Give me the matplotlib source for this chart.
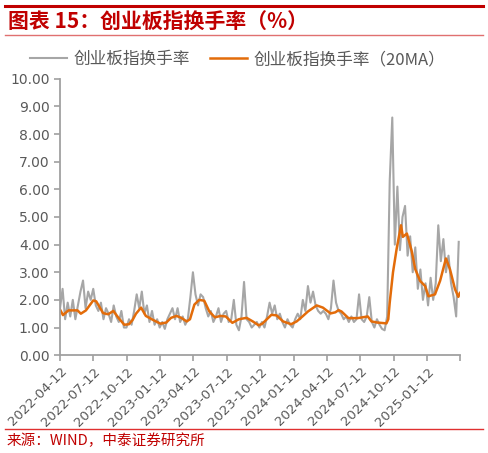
import numpy as np
import pandas as pd
import matplotlib
matplotlib.use("Agg")
import matplotlib.pyplot as plt
import matplotlib.dates as mdates
from matplotlib.lines import Line2D

plt.rcParams['font.family'] = ['Noto Sans CJK SC', 'DejaVu Sans']

# weekly readings of the daily turnover rate (%)
turnover = [
    1.7, 2.4, 1.3, 1.9,
    1.4, 2.0, 1.3, 1.8, 2.3,
    2.7, 1.7, 2.3, 2.0,
    2.4, 1.8, 1.6, 1.9,
    1.3, 1.7, 1.5, 1.2, 1.8,
    1.4, 1.2, 1.6, 1.0,
    1.0, 1.3, 1.1, 1.6,
    2.2, 1.7, 2.3, 1.5, 1.8,
    1.2, 1.6, 1.1, 1.3,
    1.0, 1.2, 0.95, 1.3,
    1.5, 1.7, 1.3, 1.7, 1.2,
    1.4, 1.1, 1.3, 2.1,
    3.0, 2.2, 1.8, 2.2,
    2.1, 1.7, 1.4, 1.6, 1.2,
    1.4, 1.7, 1.2, 1.5,
    1.6, 1.2, 1.3, 2.0,
    1.1, 0.9, 1.4, 2.65, 1.3,
    1.2, 1.0, 1.1, 1.2,
    1.0, 1.2, 1.0, 1.4,
    1.9, 1.5, 1.8, 1.3, 1.5,
    1.2, 1.0, 1.3, 1.1,
    1.0, 1.3, 1.5, 1.3,
    2.0, 1.6, 2.5, 1.9, 2.3,
    1.8, 1.6, 1.5, 1.6,
    1.5, 1.3, 1.7, 2.7,
    1.9, 1.6, 1.5, 1.3, 1.4,
    1.2, 1.4, 1.2, 1.3,
    2.2, 1.3, 1.2, 1.4,
    2.1, 1.2, 1.0, 1.3, 1.1,
    0.95, 0.9, 1.4, 6.3,
    8.6, 4.0, 6.1, 3.8, 5.0, 5.4, 3.6, 4.3, 3.0, 3.9, 2.4, 3.1, 2.0,
    2.6, 1.8, 2.8, 2.0, 2.6,
    4.7, 3.4, 4.2, 3.0, 3.6, 2.6, 2.1, 1.4, 4.1,
]
turnover_dates = pd.date_range('2022-04-12', periods=len(turnover), freq='7D')

# 20-day moving average
ma_dates = pd.to_datetime([
    '2022-04-12', '2022-04-20', '2022-05-05', '2022-05-30', '2022-06-08', '2022-06-22',
    '2022-07-12', '2022-07-20', '2022-08-08', '2022-08-22', '2022-09-05', '2022-09-19',
    '2022-10-05', '2022-10-18', '2022-10-28', '2022-11-06', '2022-11-20', '2022-12-03',
    '2022-12-22', '2023-01-12', '2023-01-28', '2023-02-10', '2023-02-25', '2023-03-10',
    '2023-03-25', '2023-04-03', '2023-04-15', '2023-04-28', '2023-05-12', '2023-05-26',
    '2023-06-10', '2023-06-26', '2023-07-10', '2023-07-28', '2023-08-15', '2023-09-05',
    '2023-09-22', '2023-10-08', '2023-10-18', '2023-11-12', '2023-11-26', '2023-12-14',
    '2024-01-05', '2024-01-20', '2024-02-05', '2024-02-20', '2024-03-15', '2024-04-01',
    '2024-04-22', '2024-05-05', '2024-05-14', '2024-05-22', '2024-06-10', '2024-07-05',
    '2024-08-02', '2024-08-12', '2024-08-28', '2024-09-22', '2024-09-27', '2024-10-01',
    '2024-10-10', '2024-10-20', '2024-11-01', '2024-11-06', '2024-11-17', '2024-11-30',
    '2024-12-10', '2024-12-23', '2025-01-06', '2025-01-15', '2025-02-02', '2025-02-16',
    '2025-03-04', '2025-03-15', '2025-03-29', '2025-04-07', '2025-04-11',
])
ma20 = [
    1.65, 1.45, 1.62, 1.62, 1.50, 1.62,
    1.98, 1.95, 1.52, 1.48, 1.60, 1.35,
    1.10, 1.12, 1.28, 1.50, 1.72, 1.42,
    1.28, 1.14, 1.18, 1.35, 1.42, 1.35,
    1.22, 1.30, 1.83, 2.00, 1.97, 1.58,
    1.37, 1.42, 1.40, 1.17, 1.30, 1.35,
    1.22, 1.08, 1.14, 1.46, 1.44, 1.22,
    1.12, 1.22, 1.40, 1.58, 1.80, 1.72,
    1.51, 1.55, 1.63, 1.58, 1.34, 1.34,
    1.40, 1.22, 1.18, 1.15, 1.30, 1.90,
    3.00, 3.85, 4.70, 4.28, 4.40, 3.78,
    3.11, 2.69, 2.50, 2.13, 2.20, 2.69,
    3.50, 3.11, 2.38, 2.11, 2.25,
]

tick_dates = pd.to_datetime(['2022-04-12', '2022-07-12', '2022-10-12', '2023-01-12',
                             '2023-04-12', '2023-07-12', '2023-10-12', '2024-01-12',
                             '2024-04-12', '2024-07-12', '2024-10-12', '2025-01-12',
                             '2025-04-12'])
tick_labels = [d.strftime('%Y-%m-%d') for d in tick_dates[:-1]] + ['']

red = '#C00000'
txt = '#595959'
axis_col = '#A0A0A0'

fig = plt.figure(figsize=(4.88, 4.53), dpi=100)
ax = fig.add_axes([0.123, 0.216, 0.820, 0.610])

ax.plot(turnover_dates, turnover, color='#A6A6A6', lw=1.5, label='创业板指换手率')
ax.plot(ma_dates, ma20, color='#E36C0A', lw=1.8, label='创业板指换手率（20MA）')

ax.set_xlim(tick_dates[0], tick_dates[-1])
ax.set_ylim(0, 10)
ax.set_yticks(np.arange(0, 11, 1))
ax.set_yticklabels([f'{v:.2f}' for v in np.arange(0, 11, 1)], fontsize=10,
                   color=txt, family='DejaVu Sans')
ax.set_xticks(tick_dates)
ax.set_xticklabels(tick_labels, rotation=45, ha='right', rotation_mode='anchor',
                   fontsize=9.5, color=txt, family='DejaVu Sans')

for s in ['top', 'right']:
    ax.spines[s].set_visible(False)
for s in ['left', 'bottom']:
    ax.spines[s].set_color(axis_col)
    ax.spines[s].set_linewidth(1.3)
ax.tick_params(axis='both', color=axis_col, length=4, width=1.2)
ax.tick_params(axis='x', pad=3)

ax.legend(loc='center', bbox_to_anchor=(0.487, 0.868), bbox_transform=fig.transFigure,
          ncol=2, frameon=False, fontsize=12, labelcolor=txt, handlelength=2.2,
          columnspacing=1.2, handletextpad=0.4)

# header and footer
fig.add_artist(Line2D([0.010, 0.990], [0.987, 0.987], color=red, lw=2.2))
fig.text(0.016, 0.950, '图表 15：创业板指换手率（%）', color=red, fontsize=15,
         fontweight='bold', style='italic', va='center', ha='left')
fig.add_artist(Line2D([0.010, 0.990], [0.923, 0.923], color='#E07070', lw=1.0))
fig.add_artist(Line2D([0.010, 0.990], [0.053, 0.053], color='#E03030', lw=1.0))
fig.text(0.014, 0.028, '来源：WIND，中泰证券研究所', color=red, fontsize=10.5,
         va='center', ha='left')

fig.savefig('out.png', dpi=100)
